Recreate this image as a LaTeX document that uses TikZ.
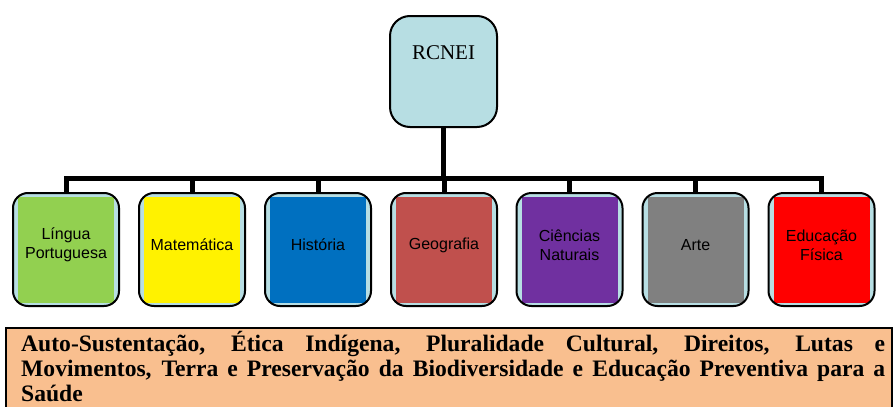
\documentclass[tikz,border=0pt]{standalone}
\usepackage{fontspec}
\setmainfont{Liberation Serif}
\newfontfamily\arialfont{Liberation Sans}
\hyphenpenalty=10000
\exhyphenpenalty=10000

\definecolor{boxblue}{HTML}{B7DEE3}
\definecolor{lpgreen}{HTML}{92D050}
\definecolor{histblue}{HTML}{0070C0}
\definecolor{geored}{HTML}{C0504D}
\definecolor{cienpurple}{HTML}{7030A0}
\definecolor{artegray}{HTML}{808080}
\definecolor{peach}{HTML}{F9BF8F}

\tikzset{
  rootbox/.style={draw, line width=2pt, rounded corners=20pt, fill=boxblue,
    minimum width=107pt, minimum height=111pt, inner sep=0pt},
  subject/.style={draw, line width=2pt, rounded corners=15pt, fill=boxblue,
    minimum width=106pt, minimum height=113pt, inner sep=0pt,
    path picture={\fill[#1, sharp corners]
      ([shift={(5pt,-4pt)}]path picture bounding box.north west) rectangle
      ([shift={(-5pt,3pt)}]path picture bounding box.south east);}},
  subjtext/.style={font=\arialfont\fontsize{16}{19.3}\selectfont, align=center},
  link/.style={line width=5pt},
  themebox/.style={draw, line width=2pt, fill=peach},
  themetext/.style={font=\bfseries\fontsize{23.6}{25.4}\selectfont, align=justify,
    text width=864pt, inner sep=0pt, anchor=base west},
}

\begin{document}
\begin{tikzpicture}[x=1pt, y=-1pt]
    \useasboundingbox (0,0) rectangle (895,407);

    \node[rootbox] (rcnei) at (443.5,71.5) {};
    \node[font=\fontsize{21}{24}\selectfont] (rcnei-t) at ([yshift=-38pt]rcnei.north) {RCNEI};

    \node[subject=lpgreen] (lp) at (66,249.5) {};
    \node[subject=yellow] (mat) at (192,249.5) {};
    \node[subject=histblue] (hist) at (318,249.5) {};
    \node[subject=geored] (geo) at (444,249.5) {};
    \node[subject=cienpurple] (cn) at (569.5,249.5) {};
    \node[subject=artegray] (arte) at (695.5,249.5) {};
    \node[subject=red] (ef) at (821.5,249.5) {};

    \node[subjtext] (lp-t) at ([yshift=4.5pt]lp.center) {Língua\\Portuguesa};
    \node[subjtext] (mat-t) at ([yshift=4.5pt]mat.center) {Matemática};
    \node[subjtext] (hist-t) at ([yshift=4.5pt]hist.center) {História};
    \node[subjtext] (geo-t) at ([yshift=4.5pt]geo.center) {Geografia};
    \node[subjtext] (cn-t) at ([yshift=4.5pt]cn.center) {Ciências\\Naturais};
    \node[subjtext] (arte-t) at ([yshift=4.5pt]arte.center) {Arte};
    \node[subjtext] (ef-t) at ([yshift=4.5pt]ef.center) {Educação\\Física};

    \draw[link] (rcnei.south) -- ++(0,50.5) -| (lp.north);
    \draw[link] (rcnei.south) -- ++(0,50.5) -| (mat.north);
    \draw[link] (rcnei.south) -- ++(0,50.5) -| (hist.north);
    \draw[link] (rcnei.south) -- ++(0,50.5) -| (geo.north);
    \draw[link] (rcnei.south) -- ++(0,50.5) -| (cn.north);
    \draw[link] (rcnei.south) -- ++(0,50.5) -| (arte.north);
    \draw[link] (rcnei.south) -- ++(0,50.5) -| (ef.north);

    \draw[themebox] (6,328) rectangle (892,420);
    \node[themetext] (temas) at (21,351) {Auto-Sustentação, Ética Indígena, Pluralidade Cultural, Direitos, Lutas e\linebreak Movimentos, Terra e Preservação da Biodiversidade e Educação Preventiva para a Saúde};
\end{tikzpicture}
\end{document}
